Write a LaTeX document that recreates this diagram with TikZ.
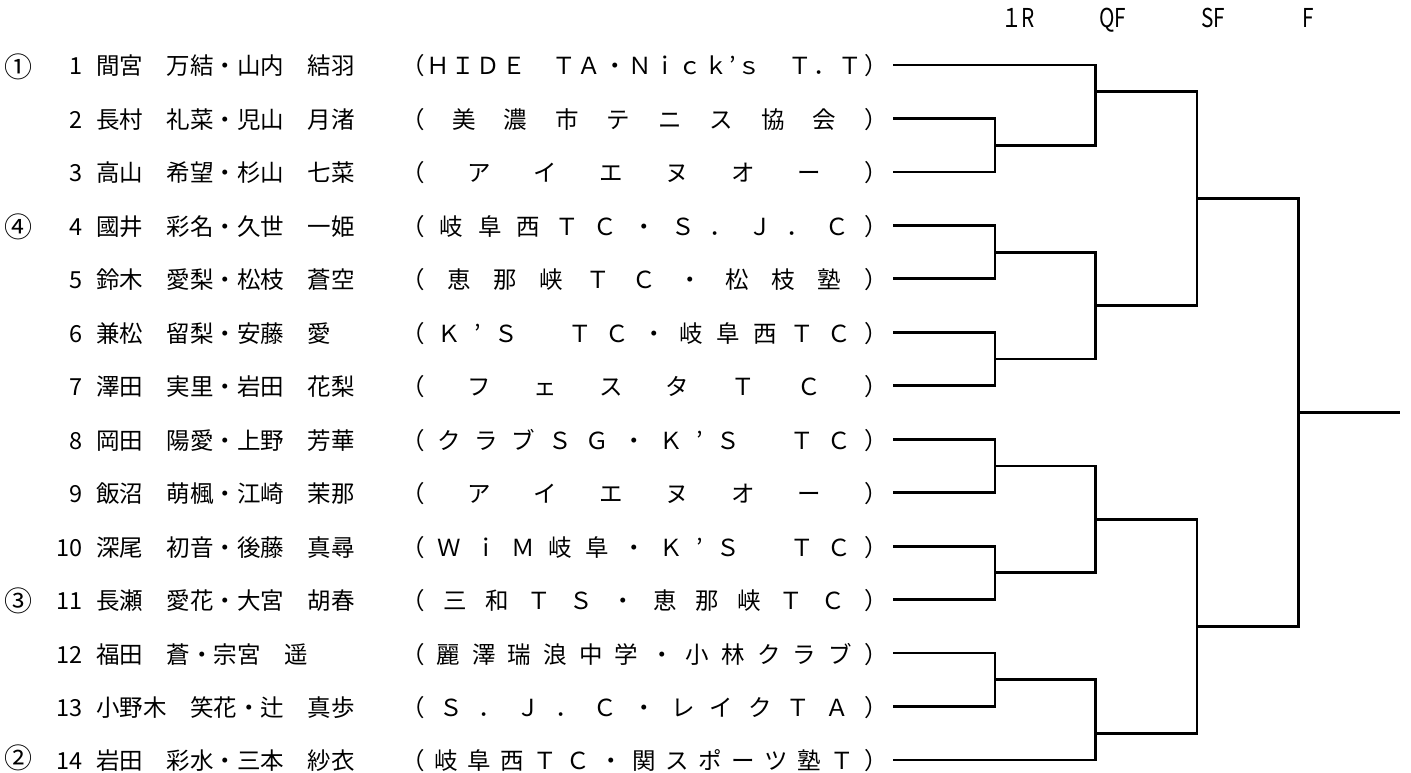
\documentclass[tikz,border=0pt]{standalone}
\usepackage{fontspec}
\setmainfont{Noto Sans CJK JP}
\usetikzlibrary{calc}
\def\distloop#1{\ifx#1\relax\else#1\expandafter\distnext\fi}
\def\distnext#1{\ifx#1\relax\else\hfil#1\expandafter\distnext\fi}
\newcommand\distrib[1]{\edef\disttmp{#1}\hbox to 486.5pt{\expandafter\distloop\disttmp\relax}}
\tikzset{
  txt/.style={inner sep=0pt, outer sep=0pt, font=\fontsize{23.5}{28}\selectfont},
  seed/.style={inner sep=0pt, outer sep=0pt, font=\fontsize{28}{30}\selectfont, anchor=center},
  hdr/.style={inner sep=0pt, outer sep=0pt, font=\fontsize{26}{30}\selectfont, anchor=base west},
  br/.style={line width=2.8pt, line join=miter, black}
}
\begin{document}
\begin{tikzpicture}[x=1pt,y=-1pt]
\useasboundingbox (0,0) rectangle (1411,773);
% headers
\node[hdr] (h1) at (1001,28) {\scalebox{0.8}[1]{１R}};
\node[hdr] (h2) at (1099,28) {\scalebox{0.8}[1]{QF}};
\node[hdr] (h3) at (1201,28) {\scalebox{0.8}[1]{SF}};
\node[hdr] (h4) at (1302,28) {\scalebox{0.8}[1]{F}};
% rows
\foreach \i/\nm/\cl in {
 1/間宮　万結・山内　結羽/（ＨＩＤＥ　ＴＡ・Ｎｉｃｋ’ｓ　Ｔ．Ｔ）,
 2/長村　礼菜・児山　月渚/（美濃市テニス協会）,
 3/高山　希望・杉山　七菜/（アイエヌオー）,
 4/國井　彩名・久世　一姫/（岐阜西ＴＣ・Ｓ．Ｊ．Ｃ）,
 5/鈴木　愛梨・松枝　蒼空/（恵那峡ＴＣ・松枝塾）,
 6/兼松　留梨・安藤　愛/（Ｋ’Ｓ　ＴＣ・岐阜西ＴＣ）,
 7/澤田　実里・岩田　花梨/（フェスタＴＣ）,
 8/岡田　陽愛・上野　芳華/（クラブＳＧ・Ｋ’Ｓ　ＴＣ）,
 9/飯沼　萌楓・江崎　茉那/（アイエヌオー）,
 10/深尾　初音・後藤　真尋/（ＷｉＭ岐阜・Ｋ’Ｓ　ＴＣ）,
 11/長瀬　愛花・大宮　胡春/（三和ＴＳ・恵那峡ＴＣ）,
 12/福田　蒼・宗宮　遥/（麗澤瑞浪中学・小林クラブ）,
 13/小野木　笑花・辻　真歩/（Ｓ．Ｊ．Ｃ・レイクＴＡ）,
 14/岩田　彩水・三本　紗衣/（岐阜西ＴＣ・関スポーツ塾Ｔ）}{
  \pgfmathsetmacro\yy{65+53.46*(\i-1)}
  \pgfmathsetmacro\yb{\yy+10}
  \node[txt, anchor=base east] (k\i) at (83,\yb) {\i};
  \node[txt, anchor=base west] (n\i) at (96,\yb) {\nm};
  \node[txt, anchor=base west] (c\i) at (401,\yb) {\distrib{\cl}};
  \coordinate (s\i) at (893,\yy);
}
% seeds
\node[seed] (sd1) at (19,67) {①};
\node[seed] (sd4) at (19,227) {④};
\node[seed] (sd11) at (19,601) {③};
\node[seed] (sd14) at (19,758) {②};
% first round
\coordinate (m23) at ($(s2)!.5!(s3)+(102,0)$);
\coordinate (m45) at ($(s4)!.5!(s5)+(102,0)$);
\coordinate (m67) at ($(s6)!.5!(s7)+(102,0)$);
\coordinate (m89) at ($(s8)!.5!(s9)+(102,0)$);
\coordinate (m1011) at ($(s10)!.5!(s11)+(102,0)$);
\coordinate (m1213) at ($(s12)!.5!(s13)+(102,0)$);
\draw[br] (s2) -| (m23) |- (s3);
\draw[br] (s4) -| (m45) |- (s5);
\draw[br] (s6) -| (m67) |- (s7);
\draw[br] (s8) -| (m89) |- (s9);
\draw[br] (s10) -| (m1011) |- (s11);
\draw[br] (s12) -| (m1213) |- (s13);
% quarter finals
\coordinate (q1) at ($(s1)!.5!(s2)+(202.5,0)$);
\coordinate (q2) at ($(m45)!.5!(m67)+(100.5,0)$);
\coordinate (q3) at ($(m89)!.5!(m1011)+(100.5,0)$);
\coordinate (q4) at ($(s13)!.5!(s14)+(202.5,0)$);
\draw[br] (s1) -| (q1) |- (m23);
\draw[br] (m45) -| (q2) |- (m67);
\draw[br] (m89) -| (q3) |- (m1011);
\draw[br] (m1213) -| (q4) |- (s14);
% semi finals
\coordinate (sf1) at ($(q1)!.5!(q2)+(101.5,0)$);
\coordinate (sf2) at ($(q3)!.5!(q4)+(101.5,0)$);
\draw[br] (q1) -| (sf1) |- (q2);
\draw[br] (q3) -| (sf2) |- (q4);
% final
\coordinate (f) at ($(sf1)!.5!(sf2)+(101.5,0)$);
\coordinate (fend) at ($(f)+(101.5,0)$);
\draw[br] (sf1) -| (f) |- (sf2);
\draw[br] (f) -- (fend);
\end{tikzpicture}
\end{document}
